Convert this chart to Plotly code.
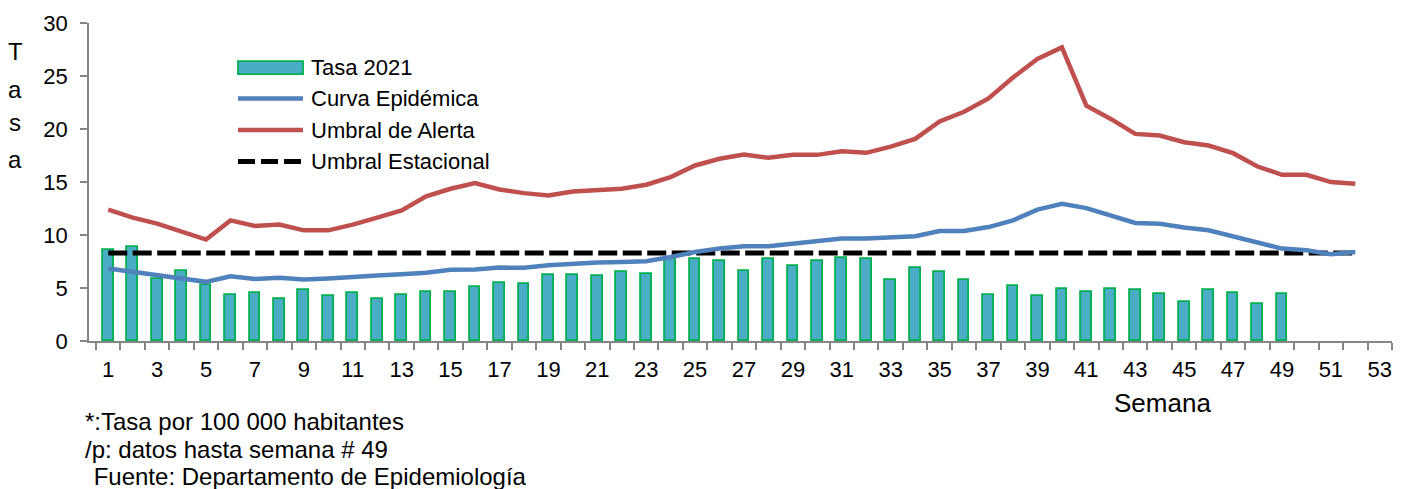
import plotly.graph_objects as go

# ---------------- data ----------------
semanas_tasa = list(range(1, 50))
tasa_2021 = [8.56, 8.87, 5.86, 6.65, 5.24, 4.36, 4.50, 3.92, 4.83, 4.23,
             4.50, 4.00, 4.36, 4.58, 4.67, 5.14, 5.45, 5.39, 6.27, 6.24,
             6.14, 6.55, 6.33, 7.70, 7.74, 7.59, 6.59, 7.74, 7.06, 7.53,
             7.87, 7.71, 5.80, 6.93, 6.53, 5.74, 4.30, 5.20, 4.26, 4.92,
             4.61, 4.89, 4.77, 4.45, 3.67, 4.80, 4.54, 3.51, 4.45]

semanas = list(range(1, 53))
curva_epidemica = [6.84, 6.52, 6.21, 5.90, 5.58, 6.11, 5.86, 5.96, 5.80, 5.90,
                   6.08, 6.18, 6.30, 6.43, 6.71, 6.74, 6.93, 6.90, 7.15, 7.31,
                   7.40, 7.46, 7.53, 7.93, 8.40, 8.72, 8.94, 8.94, 9.19, 9.34,
                   9.66, 9.66, 9.81, 9.88, 10.37, 10.38, 10.75, 11.38, 12.39, 12.95,
                   12.54, 11.79, 11.13, 11.07, 10.70, 10.44, 9.88, 9.34, 8.72, 8.56,
                   8.18, 8.40]
umbral_alerta = [12.39, 11.64, 11.07, 10.28, 9.57, 11.38, 10.85, 10.98, 10.44, 10.44,
                 10.98, 11.64, 12.32, 13.64, 14.36, 14.89, 14.30, 13.95, 13.73, 14.11,
                 14.20, 14.36, 14.74, 15.46, 16.56, 17.19, 17.60, 17.28, 17.56, 17.56,
                 17.90, 17.75, 18.34, 19.07, 20.72, 21.63, 22.89, 24.86, 26.60, 27.70,
                 22.20, 20.95, 19.54, 19.38, 18.75, 18.44, 17.72, 16.46, 15.68, 15.68,
                 14.99, 14.83]
umbral_estacional = [8.3, 8.3, 8.3, 8.3, 8.3, 8.3, 8.3, 8.3, 8.3, 8.3,
                     8.3, 8.3, 8.3, 8.3, 8.3, 8.3, 8.3, 8.3, 8.3, 8.3,
                     8.3, 8.3, 8.3, 8.3, 8.3, 8.3, 8.3, 8.3, 8.3, 8.3,
                     8.3, 8.3, 8.3, 8.3, 8.3, 8.3, 8.3, 8.3, 8.3, 8.3,
                     8.3, 8.3, 8.3, 8.3, 8.3, 8.3, 8.3, 8.3, 8.3, 8.3,
                     8.3, 8.3]

tick_vals = list(range(1, 54, 2))
tick_text = [str(v) for v in tick_vals]

legend_names = ["Tasa 2021", "Curva Epidémica", "Umbral de Alerta", "Umbral Estacional"]
footnotes = ["*:Tasa por 100 000 habitantes", "/p: datos hasta semana # 49",
             " Fuente: Departamento de Epidemiología"]

# ---------------- style ----------------
FONT = "Liberation Sans, Arial, sans-serif"
FS = 22
AXIS = "#868686"
BAR_FILL = "#4BACC6"
BAR_LINE = "#00B050"
BLUE = "#4F81BD"
RED = "#C0504D"

W, H = 1411, 489
L, R, T, B = 89, 19, 23, 148
PW, PH = W - L - R, H - T - B


def px(x):
    return (x - L) / PW


def py(y):
    return (H - B - y) / PH


fig = go.Figure()
fig.add_trace(go.Bar(x=semanas_tasa, y=tasa_2021, width=0.44,
                     marker=dict(color=BAR_FILL, line=dict(color=BAR_LINE, width=1.8)),
                     name=legend_names[0], showlegend=False))
fig.add_trace(go.Scatter(x=semanas, y=umbral_estacional, mode="lines",
                         line=dict(color="black", width=5, dash="19px,5.5px"),
                         name=legend_names[3], showlegend=False))
fig.add_trace(go.Scatter(x=semanas, y=curva_epidemica, mode="lines",
                         line=dict(color=BLUE, width=4.5),
                         name=legend_names[1], showlegend=False))
fig.add_trace(go.Scatter(x=semanas, y=umbral_alerta, mode="lines",
                         line=dict(color=RED, width=4.5),
                         name=legend_names[2], showlegend=False))

# ---------------- manual legend ----------------
shapes = []
annotations = []
rows_y = [67.7, 98.5, 130.0, 161.5]
x0, x1, xt = 238, 303, 309
shapes.append(dict(type="rect", xref="paper", yref="paper",
                   x0=px(x0), x1=px(x1), y0=py(rows_y[0] + 6.5), y1=py(rows_y[0] - 6.5),
                   fillcolor=BAR_FILL, line=dict(color=BAR_LINE, width=1.8)))
shapes.append(dict(type="line", xref="paper", yref="paper",
                   x0=px(x0), x1=px(x1), y0=py(rows_y[1]), y1=py(rows_y[1]),
                   line=dict(color=BLUE, width=4.5)))
shapes.append(dict(type="line", xref="paper", yref="paper",
                   x0=px(x0), x1=px(x1), y0=py(rows_y[2]), y1=py(rows_y[2]),
                   line=dict(color=RED, width=4.5)))
shapes.append(dict(type="line", xref="paper", yref="paper",
                   x0=px(x0), x1=px(x1), y0=py(rows_y[3]), y1=py(rows_y[3]),
                   line=dict(color="black", width=5, dash="17px,6px")))
for name, yy in zip(legend_names, rows_y):
    annotations.append(dict(text=name, xref="paper", yref="paper", x=px(xt), y=py(yy),
                            xanchor="left", yanchor="middle", showarrow=False,
                            font=dict(family=FONT, size=FS, color="black")))

# y-axis title, stacked letters
for ch, yy in zip(["T", "a", "s", "a"], [52, 90, 122, 159]):
    annotations.append(dict(text=ch, xref="paper", yref="paper", x=px(15), y=py(yy),
                            xanchor="center", yanchor="middle", showarrow=False,
                            font=dict(family=FONT, size=24, color="black")))

# x-axis title
annotations.append(dict(text="Semana", xref="paper", yref="paper", x=px(1162), y=py(403),
                        xanchor="center", yanchor="middle", showarrow=False,
                        font=dict(family=FONT, size=26, color="black")))

# footnotes
for txt, xx, yy in zip(footnotes, [83, 83, 85], [421.5, 449.3, 476.7]):
    annotations.append(dict(text=txt.replace(" ", "&nbsp;") if txt.startswith(" ") else txt,
                            xref="paper", yref="paper", x=px(xx), y=py(yy),
                            xanchor="left", yanchor="middle", showarrow=False,
                            font=dict(family=FONT, size=24, color="black")))

fig.update_layout(
    width=W, height=H,
    margin=dict(l=L, r=R, t=T, b=B, pad=0),
    paper_bgcolor="white", plot_bgcolor="white",
    showlegend=False,
    font=dict(family=FONT, size=FS, color="black"),
    shapes=shapes, annotations=annotations,
    bargap=0,
)
fig.update_xaxes(range=[0.5 - 7 / 24.45, 53.5], tickmode="array", tickvals=tick_vals,
                 ticktext=tick_text, ticks="", showgrid=False, zeroline=False,
                 showline=True, linecolor=AXIS, linewidth=1.5,
                 ticklabelstandoff=8,
                 tickfont=dict(family=FONT, size=FS, color="black"),
                 minor=dict(ticks="outside", tick0=0.5, dtick=1, ticklen=7,
                            tickcolor=AXIS, tickwidth=1.5, showgrid=False))
fig.update_yaxes(range=[0, 30], tickmode="linear", tick0=0, dtick=5,
                 ticks="outside", ticklen=7, tickcolor=AXIS, tickwidth=1.5,
                 showgrid=False, zeroline=False, showline=True, linecolor=AXIS,
                 linewidth=1.5, ticklabelstandoff=8,
                 tickfont=dict(family=FONT, size=FS, color="black"))

fig.write_html("out.html", config={"displayModeBar": False},
               post_script="document.body.style.margin='0';document.body.style.overflow='hidden';")
